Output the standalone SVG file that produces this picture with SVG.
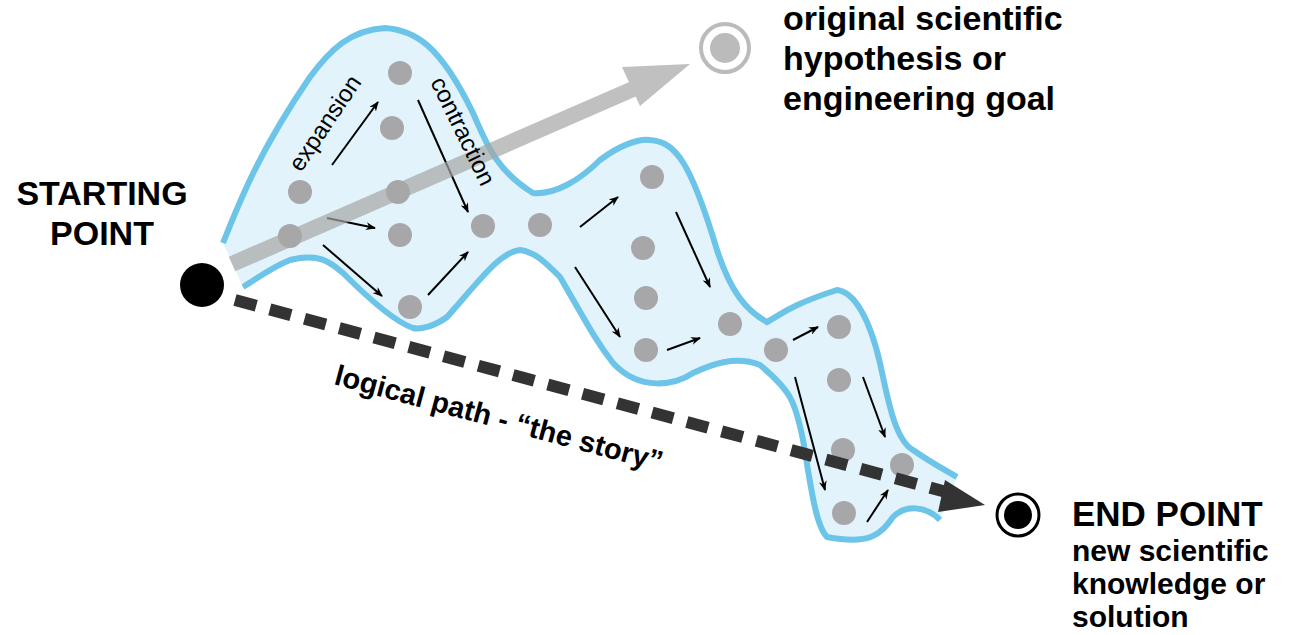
<svg xmlns="http://www.w3.org/2000/svg" width="1310" height="635" viewBox="0 0 1310 635">
<style>
.b{font-family:"Liberation Sans",Arial,sans-serif;font-weight:bold;fill:#000}
.s{font-family:"Liberation Sans",Arial,sans-serif;fill:#000;font-size:24px}
.dot{fill:#a7a7aa}
.edge{stroke:#6cc4e8;stroke-width:6;fill:none}
.ar{stroke:#000;stroke-width:2;fill:none;marker-end:url(#ah)}
</style>
<defs>
<marker id="ah" markerWidth="10" markerHeight="8" refX="9" refY="4" orient="auto" markerUnits="userSpaceOnUse" viewBox="0 0 10 8"><path d="M0,0 L10,4 L0,8 L3,4z" fill="#000"/></marker>
</defs>
<g id="blob">
<path fill="#e2f3fb" d="M223,243 C240,200 260,150 310,77 C330,50 350,30 385,28 C415,30 440,45 473,113 C485,140 495,170 533,193 C555,195 580,180 600,160 C620,145 640,138 650,140 C675,142 690,160 717,250 C730,290 745,310 767,322 C780,315 790,305 837,290 C855,292 870,320 880,363 C888,400 895,440 913,450 C930,462 945,470 957,477 L940,520 C925,505 905,505 893,517 C880,535 870,545 827,537 C815,525 810,480 803,440 C795,400 790,390 760,365 C735,355 710,365 693,373 C675,385 640,392 613,363 C595,340 585,320 560,277 C545,262 535,252 520,250 C500,252 480,280 447,317 C435,326 420,330 413,328 C395,322 370,300 343,273 C330,262 320,253 290,260 C270,268 255,280 243,287 Z"/>
<path class="edge" d="M223,243 C240,200 260,150 310,77 C330,50 350,30 385,28 C415,30 440,45 473,113 C485,140 495,170 533,193 C555,195 580,180 600,160 C620,145 640,138 650,140 C675,142 690,160 717,250 C730,290 745,310 767,322 C780,315 790,305 837,290 C855,292 870,320 880,363 C888,400 895,440 913,450 C930,462 945,470 957,477"/>
<path class="edge" d="M940,520 C925,505 905,505 893,517 C880,535 870,545 827,537 C815,525 810,480 803,440 C795,400 790,390 760,365 C735,355 710,365 693,373 C675,385 640,392 613,363 C595,340 585,320 560,277 C545,262 535,252 520,250 C500,252 480,280 447,317 C435,326 420,330 413,328 C395,322 370,300 343,273 C330,262 320,253 290,260 C270,268 255,280 243,287"/>
</g>
<g id="dots">
<circle class="dot" cx="400" cy="73" r="12"/><circle class="dot" cx="392" cy="128" r="12"/>
<circle class="dot" cx="300" cy="192" r="12"/><circle class="dot" cx="398" cy="192" r="12"/>
<circle class="dot" cx="290" cy="236" r="12"/><circle class="dot" cx="400" cy="235" r="12"/>
<circle class="dot" cx="410" cy="307" r="12"/><circle class="dot" cx="483" cy="226" r="12"/>
<circle class="dot" cx="540" cy="225" r="12"/><circle class="dot" cx="652" cy="177" r="12"/>
<circle class="dot" cx="643" cy="248" r="12"/><circle class="dot" cx="646" cy="298" r="12"/>
<circle class="dot" cx="646" cy="350" r="12"/><circle class="dot" cx="730" cy="324" r="12"/>
<circle class="dot" cx="776" cy="350" r="12"/><circle class="dot" cx="839" cy="327" r="12"/>
<circle class="dot" cx="839" cy="380" r="12"/><circle class="dot" cx="843" cy="450" r="12"/>
<circle class="dot" cx="902" cy="465" r="12"/><circle class="dot" cx="844" cy="513" r="12"/>
</g>
<g id="connectors">
<path class="ar" d="M332,165 L378,102"/><path class="ar" d="M327,218 L375,228"/>
<path class="ar" d="M323,245 L382,296"/><path class="ar" d="M428,295 L468,252"/>
<path class="ar" d="M418,100 L468,212"/><path class="ar" d="M580,227 L618,197"/>
<path class="ar" d="M575,267 L620,337"/><path class="ar" d="M667,350 L700,338"/>
<path class="ar" d="M676,212 L710,287"/><path class="ar" d="M793,340 L818,327"/>
<path class="ar" d="M795,377 L825,490"/><path class="ar" d="M863,377 L885,437"/>
<path class="ar" d="M867,522 L888,490"/>
<g opacity="0.7">
<path d="M232,264 L640,86" stroke="#a6a6a6" stroke-width="16" fill="none"/>
<path d="M690,64 L622,67 L640,106 Z" fill="#a6a6a6"/>
</g>
<path d="M235,300 L950,493" stroke="#333" stroke-width="12" stroke-dasharray="22,14" fill="none"/>
<path d="M985,505 L945,480 L938,512 Z" fill="#333"/>
</g>
<g id="start"><circle cx="202" cy="285" r="22" fill="#000"/>
<text class="b" font-size="34" text-anchor="middle"><tspan x="102" y="205">STARTING</tspan><tspan x="102" y="245">POINT</tspan></text></g>
<g id="goal"><circle cx="725" cy="48" r="24" fill="#fff" stroke="#bbb" stroke-width="4"/><circle cx="725" cy="48" r="15" fill="#bbb"/>
<text class="b" font-size="34"><tspan x="783" y="30">original scientific</tspan><tspan x="783" y="70">hypothesis or</tspan><tspan x="783" y="110">engineering goal</tspan></text></g>
<g id="end"><circle cx="1018" cy="515" r="21" fill="#fff" stroke="#000" stroke-width="3"/><circle cx="1018" cy="515" r="14" fill="#000"/>
<text class="b" font-size="35" x="1072" y="526">END POINT</text>
<text class="b" font-size="30"><tspan x="1072" y="561">new scientific</tspan><tspan x="1072" y="594">knowledge or</tspan><tspan x="1072" y="627">solution</tspan></text></g>
<text class="b" font-size="29" transform="translate(333,384) rotate(15)">logical path - “the story”</text>
<text class="s" transform="translate(301,173) rotate(-56)">expansion</text>
<text class="s" transform="translate(430,82) rotate(64)">contraction</text>
</svg>
